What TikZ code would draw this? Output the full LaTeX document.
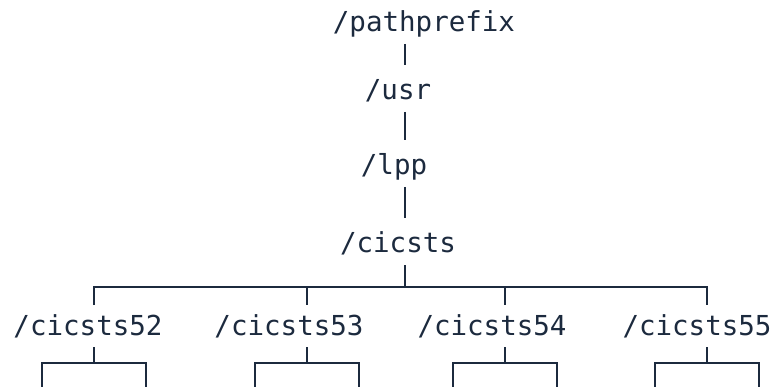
\documentclass[tikz,border=0pt]{standalone}
\usepackage{fontspec}
\newfontfamily\treefont{DejaVu Sans Mono}
\usepackage{tikz}
\usetikzlibrary{positioning}
\definecolor{navy}{HTML}{1C2A3E}

\begin{document}
\begin{tikzpicture}[
		x=1pt, y=-1pt,
		dir/.style={font=\treefont\fontsize{27.5}{30}\selectfont, text=navy, inner sep=0pt, outer sep=0pt, anchor=base, text height=35pt, text depth=12pt},
		subdir/.style={dir, text height=30pt},
		link/.style={draw=navy, line width=2.2pt}
		]
		\useasboundingbox (0,0) rectangle (773,387);
		
		% Path down to the region (single column)
		\node[dir] (pathprefix) at (424, 32) {/pathprefix};
		\node[dir] (usr) at (398, 100) {/usr};
		\node[dir] (lpp) at (394, 175) {/lpp};
		\node[dir] (cicsts) at (398, 253) {/cicsts};
		
		% Region directories
		\node[subdir] (c52) at (88, 335) {/cicsts52};
		\node[subdir] (c53) at (289, 335) {/cicsts53};
		\node[subdir] (c54) at (492, 335) {/cicsts54};
		\node[subdir] (c55) at (697, 335) {/cicsts55};
		
		% Line positions
		\coordinate (trunk) at (405, 0);
		\coordinate (fork) at (405, 287);
		\coordinate (k52) at (94, 0);
		\coordinate (k53) at (307, 0);
		\coordinate (k54) at (505, 0);
		\coordinate (k55) at (707, 0);
		
		% Trunk
		\draw[link] (pathprefix.south -| trunk) -- (usr.north -| trunk);
		\draw[link] (usr.south -| trunk) -- (lpp.north -| trunk);
		\draw[link] (lpp.south -| trunk) -- (cicsts.north -| trunk);
		\draw[link] (cicsts.south -| trunk) -- (fork);
		
		% Fan out to the regions
		\draw[link] (c52.north -| k52) |- (fork) -| (c55.north -| k55);
		\draw[link] (fork -| k53) -- (c53.north -| k53);
		\draw[link] (fork -| k54) -- (c54.north -| k54);
		
		% Subtrees below each region (cut off at the bottom)
		\foreach \c/\k in {c52/k52, c53/k53, c54/k54, c55/k55} {
			\draw[link] (\c.south -| \k) -- ++(0, 16) coordinate (\c fork);
			\draw[link] ([xshift=-52pt, yshift=-30pt]\c fork) |- ([xshift=52pt]\c fork) -- ++(0, 30);
		}
		
	\end{tikzpicture}
\end{document}
